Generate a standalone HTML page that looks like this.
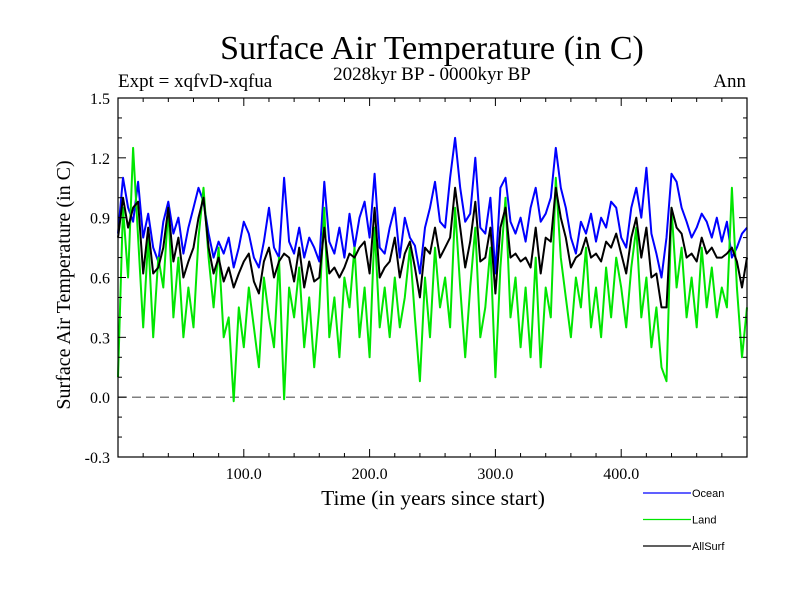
<!DOCTYPE html>
<html><head><meta charset="utf-8"><style>
body{margin:0;background:#fff}
svg{display:block}
text{font-family:"Liberation Serif",serif;fill:#000}
</style></head><body>
<svg id="chart" width="800" height="600" viewBox="0 0 800 600">
<text x="432" y="59" font-size="34" text-anchor="middle">Surface Air Temperature (in C)</text>
<text x="432" y="80" font-size="19" text-anchor="middle">2028kyr BP - 0000kyr BP</text>
<text x="118" y="87" font-size="19">Expt = xqfvD-xqfua</text>
<text x="746" y="87" font-size="19" text-anchor="end">Ann</text>
<text transform="translate(70,285) rotate(-90)" font-size="20" text-anchor="middle">Surface Air Temperature (in C)</text>
<text x="433" y="505" font-size="21.5" text-anchor="middle">Time (in years since start)</text>
<g id="plot"></g>
<g id="legend"></g>
</svg>
<script>
const yTickLabels=["-0.3","0.0","0.3","0.6","0.9","1.2","1.5"];
const xTickLabels=["100.0","200.0","300.0","400.0"];
const seriesNames=["Ocean","Land","AllSurf"];
const ocean=[0.82,1.10,0.95,0.88,1.08,0.80,0.92,0.75,0.68,0.88,0.98,0.82,0.90,0.72,0.85,0.95,1.05,0.98,0.82,0.70,0.78,0.72,0.80,0.65,0.75,0.88,0.82,0.70,0.65,0.78,0.95,0.75,0.70,1.10,0.78,0.72,0.85,0.70,0.80,0.75,0.68,1.08,0.78,0.72,0.85,0.70,0.92,0.75,0.90,0.98,0.80,1.12,0.75,0.72,0.85,0.95,0.70,0.90,0.80,0.76,0.62,0.85,0.95,1.08,0.88,0.85,1.10,1.30,1.05,0.88,0.92,1.20,0.85,0.82,1.00,0.62,1.05,1.10,0.88,0.82,0.90,0.78,0.95,1.05,0.88,0.92,1.00,1.25,1.05,0.95,0.80,0.72,0.88,0.82,0.92,0.78,0.90,0.85,0.98,0.95,0.80,0.75,0.95,1.05,0.90,1.15,0.82,0.72,0.60,0.80,1.12,1.08,0.95,0.88,0.80,0.85,0.92,0.88,0.80,0.90,0.78,0.88,0.70,0.75,0.82,0.85];
const land=[0.10,0.95,0.60,1.25,0.80,0.35,0.80,0.30,0.70,0.55,0.95,0.40,0.70,0.30,0.55,0.35,0.80,1.05,0.70,0.45,0.75,0.30,0.40,-0.02,0.45,0.25,0.55,0.35,0.15,0.60,0.40,0.25,0.70,-0.01,0.55,0.40,0.65,0.25,0.50,0.15,0.45,0.95,0.30,0.50,0.20,0.60,0.45,0.75,0.30,0.55,0.20,0.85,0.35,0.55,0.30,0.60,0.35,0.50,0.75,0.40,0.08,0.60,0.30,0.75,0.45,0.60,0.35,0.95,0.55,0.20,0.55,0.85,0.30,0.45,0.75,0.10,0.65,1.00,0.40,0.60,0.25,0.55,0.20,0.70,0.15,0.55,0.40,1.10,0.70,0.50,0.30,0.60,0.45,0.75,0.35,0.55,0.30,0.65,0.40,0.70,0.55,0.35,0.65,0.85,0.40,0.60,0.25,0.45,0.15,0.08,0.95,0.55,0.75,0.40,0.60,0.35,0.75,0.45,0.65,0.40,0.55,0.45,1.05,0.55,0.20,0.45];
const allSurf=[0.80,1.00,0.85,0.95,0.98,0.62,0.85,0.62,0.65,0.75,0.95,0.68,0.80,0.60,0.68,0.75,0.90,1.00,0.75,0.62,0.70,0.58,0.65,0.55,0.62,0.68,0.72,0.58,0.52,0.68,0.75,0.60,0.68,0.72,0.70,0.58,0.75,0.55,0.68,0.58,0.60,0.85,0.62,0.65,0.60,0.65,0.72,0.70,0.75,0.78,0.62,0.95,0.60,0.65,0.68,0.80,0.60,0.72,0.78,0.65,0.50,0.75,0.72,0.85,0.70,0.75,0.80,1.05,0.85,0.65,0.78,0.98,0.68,0.70,0.85,0.52,0.85,0.95,0.70,0.72,0.68,0.70,0.65,0.85,0.62,0.80,0.78,1.05,0.90,0.80,0.65,0.70,0.72,0.80,0.70,0.72,0.68,0.78,0.75,0.82,0.72,0.62,0.80,0.90,0.70,0.85,0.60,0.62,0.45,0.45,0.95,0.85,0.82,0.70,0.72,0.68,0.80,0.72,0.75,0.70,0.70,0.72,0.75,0.68,0.55,0.70];
const yearStep=4;

const NS="http://www.w3.org/2000/svg";
const L=118,R=747,T=98,B=457,XMIN=0,XMAX=500,YMIN=-0.3,YMAX=1.5;
const sx=v=>L+(v-XMIN)/(XMAX-XMIN)*(R-L);
const sy=v=>B-(v-YMIN)/(YMAX-YMIN)*(B-T);
const plot=document.getElementById('plot');
function mk(tag,attrs,parent){const e=document.createElementNS(NS,tag);for(const k in attrs)e.setAttribute(k,attrs[k]);(parent||plot).appendChild(e);return e;}

const z=mk('line',{x1:L,x2:R,y1:sy(0),y2:sy(0),stroke:'#555','stroke-width':1.2,'stroke-dasharray':'9,5'});



const colors=["#0000ff","#00e600","#000000"];
[ocean,land,allSurf].forEach((arr,si)=>{
  const pts=arr.map((v,i)=>sx(i*yearStep).toFixed(1)+','+sy(v).toFixed(1)).join(' ');
  const p=mk('polyline',{points:pts,fill:'none',stroke:colors[si],'stroke-width':2,'stroke-linejoin':'round'});
  
  
});

const fr=mk('rect',{x:L,y:T,width:R-L,height:B-T,fill:'none',stroke:'#000','stroke-width':1.2});



for(let yr=20;yr<XMAX;yr+=20){
  const major=yr%100===0,len=major?8:4,x=sx(yr);
  mk('line',{x1:x,x2:x,y1:B,y2:B-len,stroke:'#000','stroke-width':1});
  mk('line',{x1:x,x2:x,y1:T,y2:T+len,stroke:'#000','stroke-width':1});
}
xTickLabels.forEach(s=>{
  const t=mk('text',{x:sx(parseFloat(s)),y:B+22,'font-size':16,'text-anchor':'middle'});
  t.textContent=s;
  
  
});
for(let k=-2;k<15;k++){
  const v=k/10,major=(k%3===0),len=major?8:4,y=sy(v);
  mk('line',{x1:L,x2:L+len,y1:y,y2:y,stroke:'#000','stroke-width':1});
  mk('line',{x1:R,x2:R-len,y1:y,y2:y,stroke:'#000','stroke-width':1});
}
yTickLabels.forEach(s=>{
  const t=mk('text',{x:110,y:sy(parseFloat(s))+6,'font-size':16,'text-anchor':'end'});
  t.textContent=s;
  
  
});

const lg=document.getElementById('legend');
const ly=[493,519.5,546];
seriesNames.forEach((n,i)=>{
  const g=mk('g',{},lg);
  
  
  mk('line',{x1:643,x2:691,y1:ly[i],y2:ly[i],stroke:colors[i],'stroke-width':1.3},g);
  const t=mk('text',{x:692,y:ly[i]+4,'font-size':11,style:'font-family:"Liberation Sans",sans-serif'},g);
  t.textContent=n;
});
</script>
</body></html>
